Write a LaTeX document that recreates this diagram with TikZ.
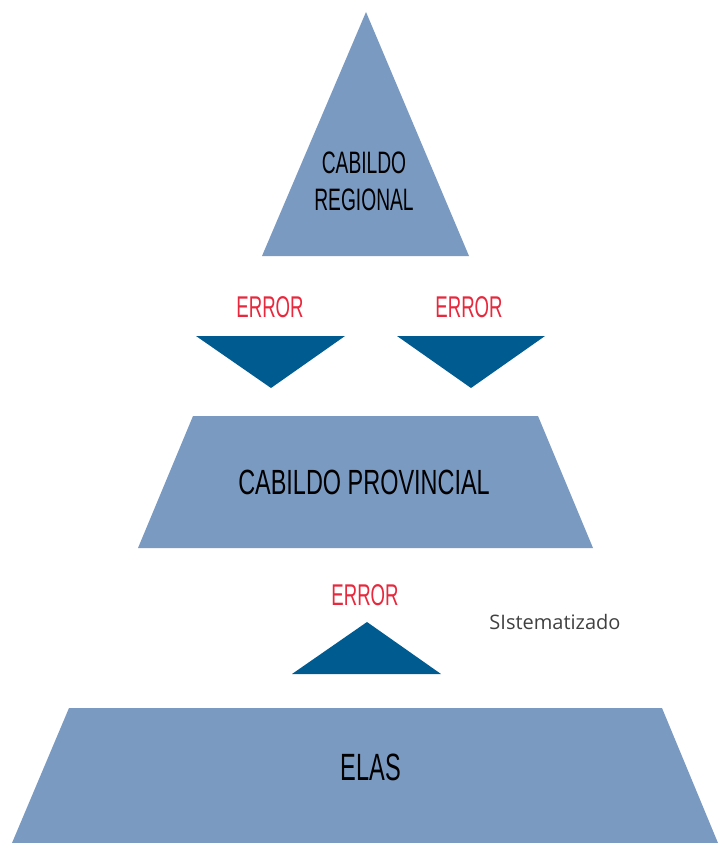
\documentclass[tikz,border=0pt]{standalone}
\usepackage{fontspec}
\newfontfamily\bebas[FakeStretch=0.62]{Liberation Sans}
\newfontfamily\bebaswide[FakeStretch=0.67]{Liberation Sans}
\newfontfamily\opensans{Open Sans}
\definecolor{lightblue}{RGB}{122,154,194}
\definecolor{darkblue}{RGB}{0,91,145}
\definecolor{errred}{RGB}{232,40,60}
\definecolor{graytext}{RGB}{64,64,64}
\tikzset{
  tier/.style={fill=lightblue, draw=none},
  arrowtri/.style={fill=darkblue, draw=none},
  tiertext/.style={text=black, font=\bebas\fontsize{35}{40}\selectfont, align=center, inner sep=0pt},
  errtext/.style={text=errred, font=\bebas\fontsize{30}{36}\selectfont, inner sep=0pt},
}
\begin{document}
\begin{tikzpicture}[x=1pt,y=-1pt]
\useasboundingbox (0,0) rectangle (718,843);
% top triangle
\fill[tier] (366,12) -- (469,256) -- (262,256) -- cycle;
\node[tiertext, font=\bebas\fontsize{31}{37}\selectfont] (regional) at (364,181) {CABILDO\\REGIONAL};
% error labels and down triangles
\node[errtext] (err1) at (270,307) {ERROR};
\node[errtext] (err2) at (469,307) {ERROR};
\fill[arrowtri] (196,336) -- (345,336) -- (271,388) -- cycle;
\fill[arrowtri] (397,336) -- (545,336) -- (471,388) -- cycle;
% provincial trapezoid
\fill[tier] (193,416) -- (538,416) -- (593,548) -- (138,548) -- cycle;
\node[tiertext, font=\bebaswide\fontsize{35}{40}\selectfont] (provincial) at (364,482) {CABILDO PROVINCIAL};
% up triangle
\node[errtext] (err3) at (365,595) {ERROR};
\fill[arrowtri] (367,622) -- (441,674) -- (292,674) -- cycle;
\node[text=graytext, font=\opensans\fontsize{20}{24}\selectfont, inner sep=0pt] (sist) at (555,622) {SIstematizado};
% ELAS trapezoid
\fill[tier] (69,708) -- (662,708) -- (718,843) -- (12,843) -- cycle;
\node[tiertext, font=\bebas\fontsize{38}{42}\selectfont] (elas) at (371,767) {ELAS};
\end{tikzpicture}
\end{document}
